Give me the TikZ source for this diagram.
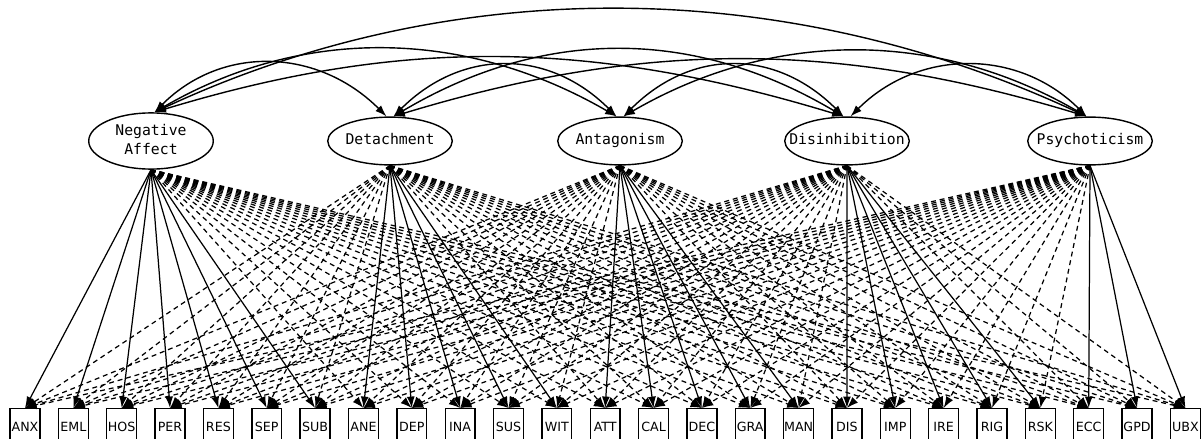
\documentclass[tikz,border=0pt]{standalone}
\usepackage{fontspec}
\usetikzlibrary{shapes.geometric,arrows.meta}
\newfontfamily\latfont{DejaVu Sans Mono}
\newfontfamily\obsfont{DejaVu Sans}

\tikzset{
	latent/.style={ellipse, draw, line width=0.8pt, minimum width=70.9pt, minimum height=27.2pt, inner sep=0pt, font=\latfont\fontsize{8.4}{11.3}\selectfont},
	obs/.style={rectangle, draw, line width=0.8pt, minimum width=17pt, minimum height=20.4pt, inner sep=0pt, anchor=north, font=\obsfont\fontsize{7.2}{8}\selectfont},
	load/.style={line width=0.7pt, -{Latex[length=6.5pt,width=4.5pt]}},
	cross/.style={load, dash pattern=on 2.8pt off 2.2pt},
	cov/.style={line width=0.8pt, {Latex[length=6.5pt,width=4.5pt]}-{Latex[length=6.5pt,width=4.5pt]}}
}
\newcommand{\lat}[1]{\makebox[0pt]{\begin{tabular}{@{}c@{}}#1\end{tabular}}}

\begin{document}
\begin{tikzpicture}[x=0.02cm, y=-0.02cm]
	\useasboundingbox (0,0) rectangle (1203,439);
	\clip (0,0) rectangle (1203,439);

	\node[latent] (na) at (151,141) {\lat{Negative\\Affect}};
	\node[latent] (det) at (390,141) {\lat{Detachment}};
	\node[latent] (ant) at (620,141) {\lat{Antagonism}};
	\node[latent] (dis) at (847,141) {\lat{Disinhibition}};
	\node[latent] (psy) at (1090,141) {\lat{Psychoticism}};

	\foreach \lab [count=\k from 0] in {ANX,EML,HOS,PER,RES,SEP,SUB,ANE,DEP,INA,SUS,WIT,ATT,CAL,DEC,GRA,MAN,DIS,IMP,IRE,RIG,RSK,ECC,GPD,UBX}
		\node[obs] (o\k) at ({25+48.35*\k},408) {\lab};

	% cross loadings
	\foreach \f/\a/\b in {na/0/6, det/7/11, ant/12/16, dis/17/21, psy/22/24}
		\foreach \k in {0,...,24}{
			\ifnum\k<\a \draw[cross] (\f.south) -- (o\k.north);\fi
			\ifnum\k>\b \draw[cross] (\f.south) -- (o\k.north);\fi
		}
	% primary loadings
	\foreach \f/\a/\b in {na/0/6, det/7/11, ant/12/16, dis/17/21, psy/22/24}
		\foreach \k in {\a,...,\b}
			\draw[load] (\f.south) -- (o\k.north);

	% factor covariances
	\foreach \s/\t/\d/\h in {na/det/68/68, det/ant/68/68, ant/dis/68/68, dis/psy/68/68, na/ant/150/87, det/dis/150/89, ant/psy/150/87, na/dis/250/76, det/psy/250/76, na/psy/300/140}
		\draw[cov] ([xshift=2pt]\s.north) .. controls +(\d,-\h) and +(-\d,-\h) .. ([xshift=-2pt]\t.north);
\end{tikzpicture}
\end{document}
